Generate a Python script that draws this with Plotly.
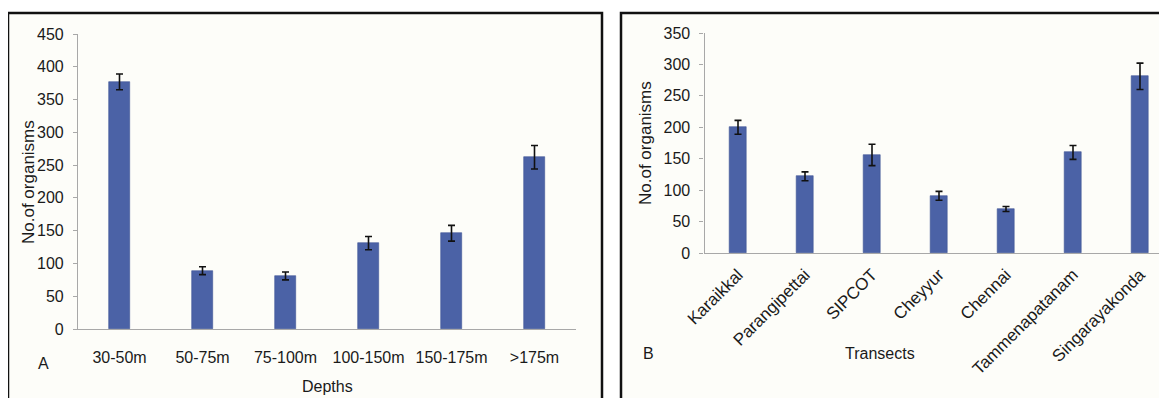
import plotly.graph_objects as go

# ---- data ----
depths = ["30-50m", "50-75m", "75-100m", "100-150m", "150-175m", ">175m"]
depth_counts = [377, 89, 81, 131, 146, 262]
depth_err = [12, 6, 6, 10, 12, 18]

transects = ["Karaikkal", "Parangipettai", "SIPCOT", "Cheyyur", "Chennai",
             "Tammenapatanam", "Singarayakonda"]
transect_counts = [200, 122, 156, 91, 70, 160, 281]
transect_err = [11, 7, 17, 7, 4, 11, 21]

yticks_a = [0, 50, 100, 150, 200, 250, 300, 350, 400, 450]
yticks_b = [0, 50, 100, 150, 200, 250, 300, 350]

W, H = 1167, 398
OFF = 8  # page body margin offset of the rendered figure
FONT = "Liberation Sans, Arial, sans-serif"
BAR = "#4B62A6"
AX = "#a8a8a8"
TXT = "#1a1a1a"
FS = 16


def px(x):
    return (x - OFF) / W


def py(y):
    return (H - (y - OFF)) / H


fig = go.Figure()

fig.add_trace(go.Bar(
    x=list(range(len(depths))), y=depth_counts, width=0.25,
    marker=dict(color=BAR, line=dict(color="#3f5595", width=0.6)),
    error_y=dict(type="data", array=depth_err, visible=True,
                 color="#111111", thickness=1.6, width=3.5),
    xaxis="x", yaxis="y", showlegend=False,
))

fig.add_trace(go.Bar(
    x=list(range(len(transects))), y=transect_counts, width=0.24,
    marker=dict(color=BAR, line=dict(color="#3f5595", width=0.6)),
    error_y=dict(type="data", array=transect_err, visible=True,
                 color="#111111", thickness=1.6, width=3.5),
    xaxis="x2", yaxis="y2", showlegend=False,
))

common = dict(showgrid=False, zeroline=False, automargin=False,
              showline=True, linecolor=AX, linewidth=1.2)

# panel A axes: plot area x 78..576, y 34..329 (page pixels)
fig.update_layout(
    xaxis=dict(domain=[px(78), px(576)], range=[-0.5, 5.5],
               tickmode="array", tickvals=list(range(len(depths))), ticktext=depths,
               ticks="", ticklabelstandoff=14,
               tickfont=dict(family=FONT, size=FS, color=TXT), anchor="y", **common),
    yaxis=dict(domain=[py(329), py(34)], range=[0, 450],
               tickmode="array", tickvals=yticks_a,
               ticks="outside", ticklen=4, tickcolor=AX, ticklabelstandoff=6,
               tickfont=dict(family=FONT, size=FS, color=TXT), anchor="x", **common),
    xaxis2=dict(domain=[px(704.5), px(1173.5)], range=[-0.5, 6.5],
                tickmode="array", tickvals=list(range(len(transects))), ticktext=transects,
                tickangle=-45, ticks="", ticklabelstandoff=4,
                tickfont=dict(family=FONT, size=17, color=TXT), anchor="y2", **common),
    yaxis2=dict(domain=[py(253), py(33)], range=[0, 350],
                tickmode="array", tickvals=yticks_b,
                ticks="outside", ticklen=4, tickcolor=AX, ticklabelstandoff=6,
                tickfont=dict(family=FONT, size=FS, color=TXT), anchor="x2", **common),
)

# panel frames
shapes = [
    dict(type="rect", xref="paper", yref="paper",
         x0=px(8), x1=px(602), y0=-0.2, y1=py(13),
         line=dict(color="#111111", width=2.5), fillcolor="#fdfdf9", layer="below"),
    dict(type="rect", xref="paper", yref="paper",
         x0=px(621), x1=px(1190), y0=-0.2, y1=py(13),
         line=dict(color="#111111", width=2.5), fillcolor="#fdfdf9", layer="below"),
]

ann_font = dict(family=FONT, size=FS, color=TXT)
annotations = [
    dict(text="No.of organisms", x=px(28), y=py(182), xref="paper", yref="paper",
         textangle=-90, showarrow=False, font=dict(family=FONT, size=17, color=TXT),
         xanchor="center", yanchor="middle"),
    dict(text="No.of organisms", x=px(645), y=py(143), xref="paper", yref="paper",
         textangle=-90, showarrow=False, font=dict(family=FONT, size=17, color=TXT),
         xanchor="center", yanchor="middle"),
    dict(text="Depths", x=px(327), y=py(386), xref="paper", yref="paper",
         showarrow=False, font=ann_font, xanchor="center", yanchor="middle"),
    dict(text="Transects", x=px(880), y=py(353), xref="paper", yref="paper",
         showarrow=False, font=ann_font, xanchor="center", yanchor="middle"),
    dict(text="A", x=px(43), y=py(363), xref="paper", yref="paper",
         showarrow=False, font=ann_font, xanchor="center", yanchor="middle"),
    dict(text="B", x=px(648), y=py(353), xref="paper", yref="paper",
         showarrow=False, font=ann_font, xanchor="center", yanchor="middle"),
]

fig.update_layout(
    width=W, height=H, margin=dict(l=0, r=0, t=0, b=0),
    paper_bgcolor="white", plot_bgcolor="rgba(0,0,0,0)",
    shapes=shapes, annotations=annotations,
    font=dict(family=FONT, color=TXT), bargap=0,
)

fig.write_html("out.html")
